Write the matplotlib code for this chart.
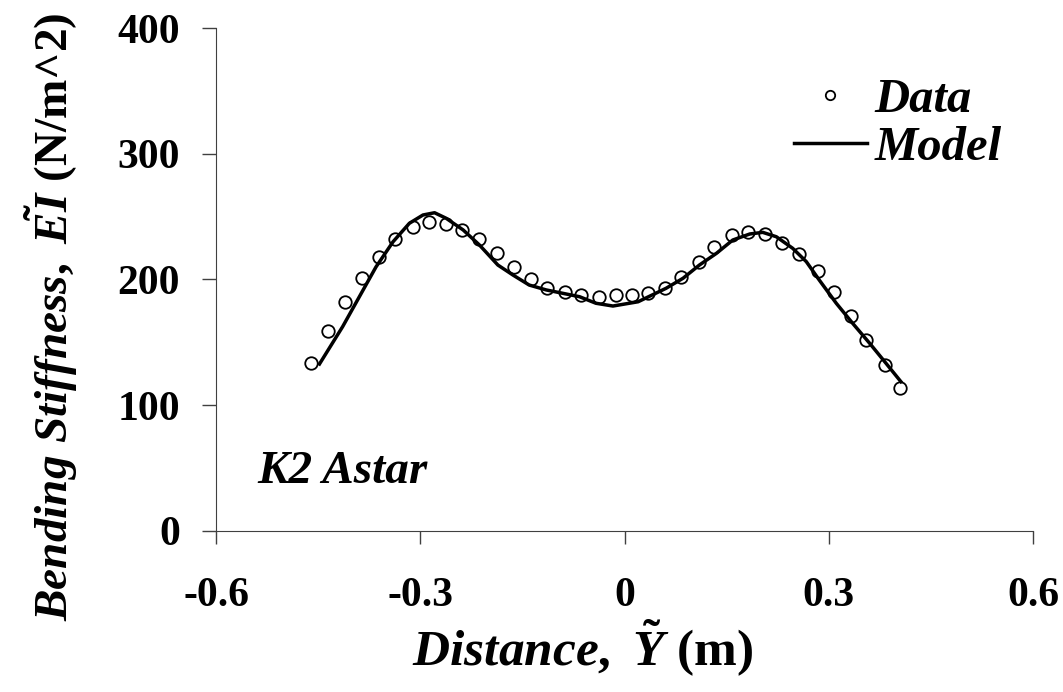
import numpy as np
import matplotlib
matplotlib.use('Agg')
import matplotlib.pyplot as plt

plt.rcParams['font.family'] = 'Liberation Serif'
plt.rcParams['font.weight'] = 'bold'
plt.rcParams['axes.labelweight'] = 'bold'
plt.rcParams['mathtext.fontset'] = 'custom'
plt.rcParams['mathtext.it'] = 'Liberation Serif:italic:bold'
plt.rcParams['mathtext.rm'] = 'Liberation Serif:bold'
plt.rcParams['mathtext.bf'] = 'Liberation Serif:bold'

# measured points
data_x = [-0.460, -0.436, -0.410, -0.386, -0.361, -0.337, -0.311, -0.287, -0.262,
          -0.238, -0.213, -0.187, -0.163, -0.137, -0.114, -0.088, -0.064, -0.038,
          -0.013, 0.011, 0.034, 0.060, 0.083, 0.109, 0.132, 0.158, 0.182, 0.207,
          0.232, 0.257, 0.284, 0.307, 0.333, 0.355, 0.382, 0.405]
data_y = [133.8, 159.3, 182.3, 201.2, 218.1, 232.0, 242.0, 245.7, 244.1,
          239.4, 232.0, 220.8, 210.3, 200.6, 193.0, 190.3, 187.4, 186.3,
          187.4, 187.4, 189.0, 193.0, 201.7, 214.2, 226.1, 235.4, 237.5, 236.2,
          228.8, 220.0, 207.0, 190.3, 171.0, 151.9, 132.0, 114.0]

# model curve
model_x = [-0.448, -0.414, -0.365, -0.340, -0.316, -0.296, -0.279, -0.262, -0.237,
           -0.213, -0.186, -0.164, -0.140, -0.115, -0.066, -0.042, -0.017, 0.020,
           0.061, 0.086, 0.110, 0.135, 0.159, 0.184, 0.203, 0.223, 0.247, 0.267,
           0.286, 0.311, 0.335, 0.360, 0.384, 0.406]
model_y = [132.8, 162.5, 210.0, 230.0, 244.7, 251.3, 253.1, 248.7, 239.4,
           227.4, 211.5, 203.6, 195.6, 191.7, 186.3, 181.1, 178.9, 182.3,
           193.0, 201.0, 211.5, 220.8, 231.4, 236.2, 237.5, 234.0, 224.8, 214.2,
           199.6, 181.1, 165.2, 149.3, 133.4, 118.7]

fig = plt.figure(figsize=(10.63, 6.92), dpi=100)
ax = fig.add_axes([0.2032, 0.2327, 0.7686, 0.7268])

ax.plot(data_x, data_y, 'o', mfc='none', mec='black', ms=9, mew=1.3, label='Data')
ax.plot(model_x, model_y, '-', color='black', lw=2.5, label='Model')

ax.set_xlim(-0.6, 0.6)
ax.set_ylim(0, 400)
ax.set_xticks([-0.6, -0.3, 0, 0.3, 0.6])
ax.set_xticklabels(['-0.6', '-0.3', '0', '0.3', '0.6'])
ax.set_yticks([0, 100, 200, 300, 400])
ax.spines['top'].set_visible(False)
ax.spines['right'].set_visible(False)
ax.spines['left'].set_color('#404040')
ax.spines['bottom'].set_color('#404040')
ax.tick_params(axis='x', direction='out', length=9, width=1, pad=24, labelsize=30, color='#404040')
ax.tick_params(axis='y', direction='out', length=10, width=1, pad=16, labelsize=30, color='#404040')

ax.set_xlabel(r'$\mathit{Distance,}\ \tilde{\mathit{Y}}\ \mathit{(}$m$\mathit{)}$', fontsize=37, fontweight='bold')
ax.xaxis.set_label_coords(0.449, -0.172)
ax.set_ylabel(r'$\mathit{Bending\ Stiffness,}\ \tilde{\mathit{EI}}$ (N/m^$\mathit{2)}$', fontsize=34, fontweight='bold')
ax.yaxis.set_label_coords(-0.167, 0.426)

ax.text(0.05, 0.095, 'K2 Astar', transform=ax.transAxes, fontsize=34, style='italic', fontweight='bold')

leg = ax.legend(loc='upper right', frameon=False, markerscale=0.75, handlelength=1.5,
                prop={'family': 'Liberation Serif', 'style': 'italic', 'weight': 'bold', 'size': 35},
                bbox_to_anchor=(0.985, 0.94), borderaxespad=0.0, labelspacing=0.08, handletextpad=0.15)

fig.savefig('out.png', dpi=100)
